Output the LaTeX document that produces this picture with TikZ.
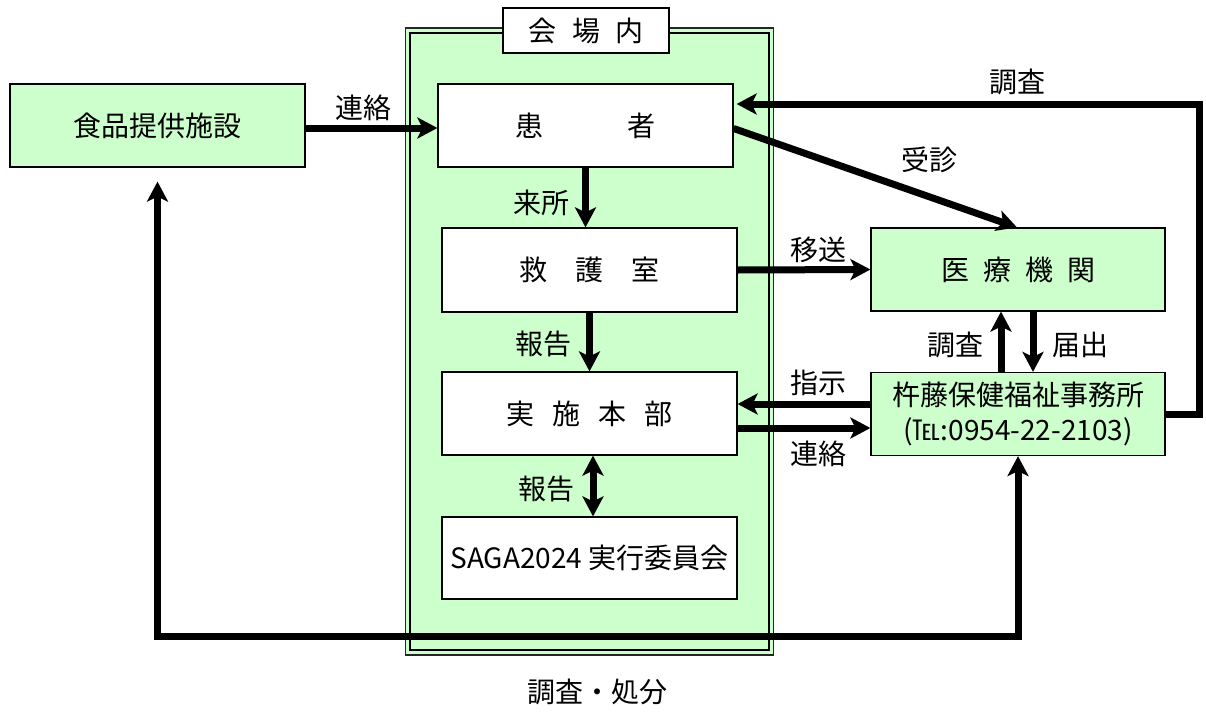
\documentclass[tikz,border=0pt]{standalone}
\usepackage{fontspec}
\setmainfont{Noto Sans CJK JP}
\usetikzlibrary{arrows.meta}
\definecolor{lg}{HTML}{CCFFCC}
\newcommand\myfs{\fontsize{28}{35}\selectfont}
\begin{document}
\begin{tikzpicture}[x=1pt,y=-1pt,
  >={Stealth[length=20pt,width=21pt,inset=5pt]},
  box/.style={draw=black, line width=1.2pt, minimum width=295pt, minimum height=83pt, inner sep=0pt, align=center, font=\myfs},
  gbox/.style={box, fill=lg},
  wbox/.style={box, fill=white},
  arr/.style={line width=7pt, ->},
  darr/.style={line width=7pt, <->},
  lbl/.style={font=\myfs, inner sep=0pt},
]
\useasboundingbox (0,0) rectangle (1206,717);
% venue frame
\node[draw=black!85, line width=1.2pt, fill=lg, minimum width=368pt, minimum height=627pt, inner sep=0pt] (venue) at (589.5,341.5) {};
\node[draw=black, line width=1.8pt, minimum width=359pt, minimum height=617pt, inner sep=0pt] (venuein) at (589.5,341.5) {};
\node[wbox, minimum width=166pt, minimum height=45pt] (title) at (586,30.5) {会\hspace{0.55em}場\hspace{0.55em}内};
% boxes
\node[gbox] (food) at (157.5,125.5) {食品提供施設};
\node[wbox] (patient) at (585.5,125.5) {患\hspace{3em}者};
\node[wbox, minimum height=84pt] (rescue) at (589.5,270) {救\hspace{1em}護\hspace{1em}室};
\node[wbox] (honbu) at (589.5,413.5) {実\hspace{0.65em}施\hspace{0.65em}本\hspace{0.65em}部};
\node[wbox, minimum height=82pt] (saga) at (589.5,558) {SAGA2024 実行委員会};
\node[gbox, minimum width=294pt] (hosp) at (1018,269.5) {医\hspace{0.5em}療\hspace{0.5em}機\hspace{0.5em}関};
\node[gbox, minimum width=294pt] (office) at (1018,414) {杵藤保健福祉事務所\\(℡:0954-22-2103)};
% helper coordinates
\coordinate (rt) at (1199,104);
\coordinate (bot) at (600,636);
% connectors
\draw[arr] ([yshift=-2.5pt]food.east) -- ([yshift=-2.5pt]food.east -| patient.west);
\draw[arr] (patient.south) -- (patient.south |- rescue.north);
\draw[arr] (rescue.south) -- (honbu.north);
\draw[darr] ([xshift=3.5pt]honbu.south) -- ([xshift=3.5pt]saga.north);
\draw[arr] ([yshift=-3pt]patient.east) -- ([xshift=-1pt]hosp.north);
\draw[arr] (rescue.east) -- (hosp.west);
\draw[arr] ([xshift=-17pt]office.north) -- ([xshift=-17pt]hosp.south);
\draw[arr] ([xshift=15pt]hosp.south) -- ([xshift=15pt]office.north);
\draw[arr] ([yshift=10pt]office.west) -- ([yshift=10pt]office.west -| honbu.east);
\draw[arr] ([yshift=-14.5pt]honbu.east) -- ([yshift=-14.5pt]honbu.east -| office.west);
\draw[arr] (office.east) -| (rt) -- ([xshift=3pt,yshift=21.5pt]patient.east);
\draw[darr] ([yshift=-14pt]food.south) |- (bot) -| (office.south);
% labels
\node[lbl] (l1) at (363,108) {連絡};
\node[lbl] (l2) at (541,203) {来所};
\node[lbl] (l3) at (543,344) {報告};
\node[lbl] (l4) at (546,489) {報告};
\node[lbl] (l5) at (1017,82) {調査};
\node[lbl] (l6) at (929,160) {受診};
\node[lbl] (l7) at (818,250) {移送};
\node[lbl] (l8) at (955,345) {調査};
\node[lbl] (l9) at (1080,345) {届出};
\node[lbl] (l10) at (818,383) {指示};
\node[lbl] (l11) at (818,454) {連絡};
\node[lbl] (l12) at (597,692) {調査・処分};
\end{tikzpicture}
\end{document}
